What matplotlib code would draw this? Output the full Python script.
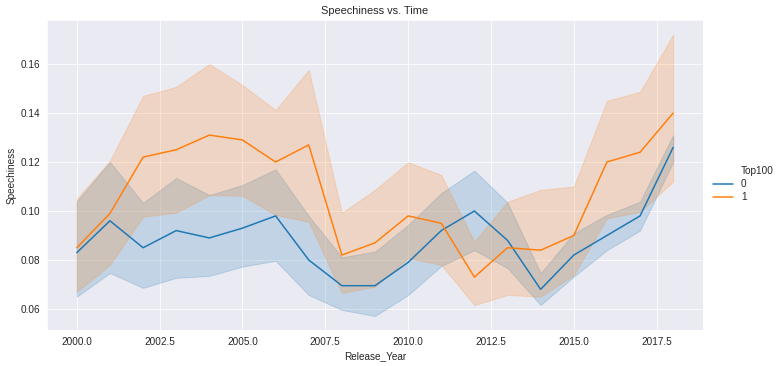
import numpy as np
import matplotlib
matplotlib.use('Agg')
import matplotlib.pyplot as plt
import seaborn as sns

years = list(range(2000, 2019))

# Top100 = 0
mean_0 = [0.083, 0.096, 0.085, 0.092, 0.089, 0.093, 0.098, 0.080, 0.0695, 0.0695,
          0.079, 0.092, 0.100, 0.088, 0.068, 0.082, 0.090, 0.098, 0.126]
low_0 = [0.065, 0.0747, 0.0686, 0.0727, 0.0735, 0.0773, 0.0797, 0.0657, 0.0596, 0.0571,
         0.0657, 0.0775, 0.084, 0.0767, 0.0616, 0.0732, 0.084, 0.092, 0.120]
high_0 = [0.104, 0.120, 0.1033, 0.1135, 0.1065, 0.1106, 0.117, 0.098, 0.0811, 0.0834,
          0.0943, 0.1073, 0.1165, 0.1034, 0.0746, 0.0909, 0.0984, 0.1038, 0.131]

# Top100 = 1
mean_1 = [0.085, 0.099, 0.122, 0.125, 0.131, 0.129, 0.120, 0.127, 0.082, 0.087,
          0.098, 0.095, 0.073, 0.085, 0.084, 0.090, 0.120, 0.124, 0.140]
low_1 = [0.067, 0.078, 0.0977, 0.0993, 0.1065, 0.1062, 0.0984, 0.0956, 0.0665, 0.0691,
         0.0808, 0.078, 0.0616, 0.0657, 0.065, 0.0739, 0.097, 0.0997, 0.112]
high_1 = [0.105, 0.1205, 0.147, 0.1507, 0.160, 0.1514, 0.1412, 0.1576, 0.0993, 0.1086,
          0.1199, 0.1147, 0.0875, 0.1038, 0.1086, 0.110, 0.145, 0.1487, 0.172]

groups = ['0', '1']

sns.set_style('darkgrid')
plt.rcParams['font.family'] = ['Liberation Sans', 'DejaVu Sans']

fig = plt.figure(figsize=(783 / 72, 366 / 72), dpi=72)
ax = fig.add_axes([47 / 783, 36 / 366, 656 / 783, 310 / 366])

palette = sns.color_palette()
series = [(mean_0, low_0, high_0), (mean_1, low_1, high_1)]
handles = []
for i, (m, lo, hi) in enumerate(series):
    ax.fill_between(years, lo, hi, color=palette[i], alpha=0.2, linewidth=1)
    line, = ax.plot(years, m, color=palette[i], lw=1.5, label=groups[i])
    handles.append(line)

ax.set_xlim(1999.1, 2018.9)
ax.set_ylim(0.0514, 0.178)
ax.set_xticks([2000, 2002.5, 2005, 2007.5, 2010, 2012.5, 2015, 2017.5])
ax.set_xticklabels(['2000.0', '2002.5', '2005.0', '2007.5', '2010.0', '2012.5', '2015.0', '2017.5'])
ax.set_yticks([0.06, 0.08, 0.10, 0.12, 0.14, 0.16])
ax.set_yticklabels(['0.06', '0.08', '0.10', '0.12', '0.14', '0.16'])
ax.tick_params(labelsize=10)
ax.set_xlabel('Release_Year', fontsize=10)
ax.set_ylabel('Speechiness', fontsize=10)
ax.set_title('Speechiness vs. Time', fontsize=11)

# hue title as a legend row with an invisible handle, old seaborn style
title_handle, = ax.plot([], [], color='none')
fig.legend([title_handle] + handles, ['Top100'] + groups, loc='center left',
           bbox_to_anchor=(704 / 783, 0.497), frameon=False, fontsize=10,
           labelspacing=0.3)

fig.savefig('out.png', dpi=72)
